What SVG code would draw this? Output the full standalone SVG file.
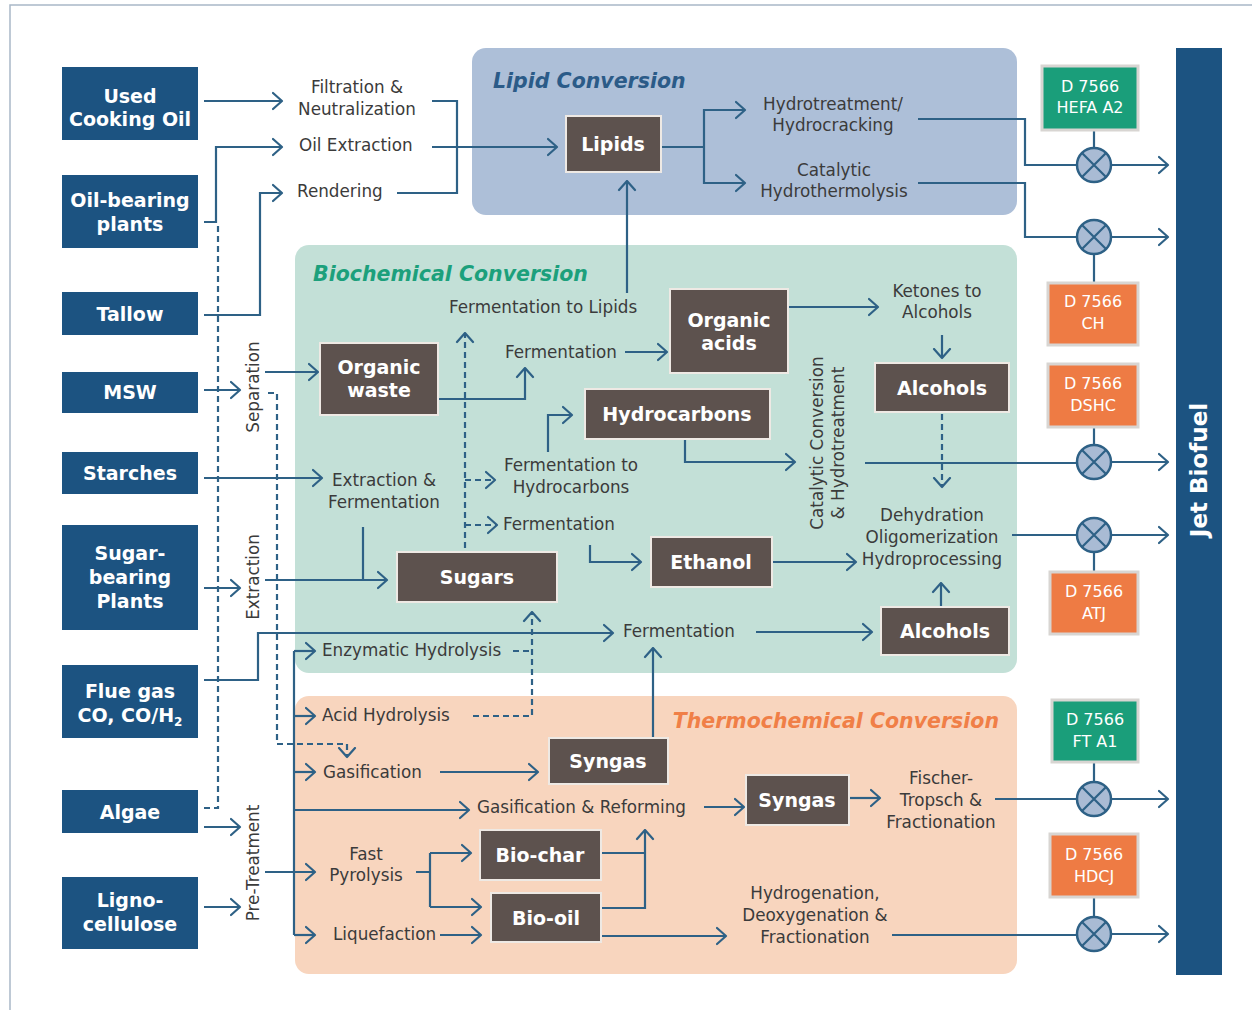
<svg xmlns="http://www.w3.org/2000/svg" width="1252" height="1013" viewBox="0 0 1252 1013">
<style>
text{font-family:"DejaVu Sans","Liberation Sans",sans-serif}
.src rect{fill:#1c5381}
.src text,.mid text{fill:#fff;font-weight:bold;font-size:19px;text-anchor:middle}
.mid rect{fill:#5d524e;stroke:#eee9e4;stroke-width:2}
.std text{fill:#fff;font-size:16px;text-anchor:middle}
.std rect{stroke:#d8d5d2;stroke-width:3}
.g rect{fill:#1a9e7a}
.o rect{fill:#ee7b44}
.lbl{fill:#3b3b3b;font-size:16.8px}
.m{text-anchor:middle}
.ttl{font-size:20.5px;font-weight:bold;font-style:italic}
.cn path,.cn line{fill:none;stroke:#2e6186;stroke-width:2.2}
.cn .d{stroke-dasharray:6 4}
.cn .a{marker-end:url(#ah)}
.x circle{fill:#a9bbd4;stroke:#2e6186;stroke-width:2.5}
.x path{fill:none;stroke:#2e6186;stroke-width:2.2}
</style>
<defs>
<marker id="ah" viewBox="0 0 12 20" refX="10.5" refY="10" markerWidth="12" markerHeight="20" markerUnits="userSpaceOnUse" orient="auto">
<path d="M1.5,2 L10.5,10 L1.5,18" fill="none" stroke="#2e6186" stroke-width="2.2" stroke-linecap="round" stroke-linejoin="round"/>
</marker>
</defs>
<rect width="1252" height="1013" fill="#fff"/>
<path d="M10,1010 V5 H1252" fill="none" stroke="#a9b8c7" stroke-width="1.5"/>

<!-- panels -->
<g id="panel-lipid"><rect x="472" y="48" width="545" height="167" rx="14" fill="#adbfd8"/>
<text x="493" y="88" class="ttl" fill="#2b5b88">Lipid Conversion</text></g>
<g id="panel-bio"><rect x="295" y="245" width="722" height="428" rx="14" fill="#c3e0d7"/>
<text x="313" y="281" class="ttl" fill="#1ca07c">Biochemical Conversion</text></g>
<g id="panel-thermo"><rect x="295" y="696" width="722" height="278" rx="14" fill="#f8d5be"/>
<text x="999" y="728" class="ttl" fill="#f07f47" text-anchor="end">Thermochemical Conversion</text></g>

<!-- Jet Biofuel bar -->
<g id="jet"><rect x="1176" y="48" width="46" height="927" fill="#1c5381"/>
<text transform="translate(1207,470) rotate(-90)" fill="#fff" font-weight="bold" font-size="23" text-anchor="middle">Jet Biofuel</text></g>

<!-- connectors -->
<g id="connectors" class="cn">
<path class="a" d="M204,101 H282"/>
<path class="a" d="M204,222 H216 V147 H282"/>
<path class="a" d="M204,315 H260 V193 H282"/>
<path d="M432,101 H457 V193 H397"/>
<path class="a" d="M432,147 H557"/>
<path d="M661,147 H704"/>
<path class="a" d="M704,147 V110 H745"/>
<path class="a" d="M704,147 V183 H745"/>
<path d="M918,119 H1025 V165 H1077"/>
<path d="M918,183 H1025 V237 H1077"/>
<path class="a" d="M1111,165 H1168"/>
<path class="a" d="M1111,237 H1168"/>
<path class="a" d="M1111,462 H1168"/>
<path class="a" d="M1111,535 H1168"/>
<path class="a" d="M1111,799 H1168"/>
<path class="a" d="M1111,934 H1168"/>
<path d="M1094,130 V148 M1094,254 V283 M1094,427 V445 M1094,552 V572 M1094,762 V782 M1094,897 V917"/>
<path class="a" d="M627,293 V181"/>
<path class="a" d="M204,390 H240"/>
<path class="a" d="M265,372 H318"/>
<path class="a" d="M438,399 H525 V368"/>
<path class="a" d="M625,352 H667"/>
<path class="a" d="M788,307 H878"/>
<path class="a" d="M942,335 V358"/>
<path class="a" d="M204,478 H322"/>
<path d="M363,527 V580"/>
<path class="a" d="M265,580 H387"/>
<path class="a" d="M204,588 H240"/>
<path class="a" d="M548,452 V415 H572"/>
<path class="a" d="M685,439 V462 H795"/>
<path d="M865,463 H1077"/>
<path class="a" d="M590,545 V562 H641"/>
<path class="a" d="M772,562 H856"/>
<path class="a" d="M941,607 V583"/>
<path d="M1012,535 H1077"/>
<path class="a" d="M204,680 H258 V633 H613"/>
<path class="a" d="M756,632 H872"/>
<path class="a" d="M653,738 V648"/>
<path d="M294,651 V935"/>
<path class="a" d="M294,651 H315"/>
<path class="a" d="M294,716 H315"/>
<path class="a" d="M294,772 H315"/>
<path class="a" d="M294,935 H315"/>
<path class="a" d="M294,810 H469"/>
<path class="a" d="M265,872 H315"/>
<path class="a" d="M204,827 H240"/>
<path class="a" d="M204,907 H240"/>
<path class="a" d="M440,772 H538"/>
<path class="a" d="M704,807 H744"/>
<path class="a" d="M849,798 H880"/>
<path d="M995,799 H1077"/>
<path d="M416,872 H430 M430,853 V907"/>
<path class="a" d="M430,853 H471"/>
<path class="a" d="M430,907 H481"/>
<path d="M601,853 H645"/>
<path class="a" d="M601,908 H645 V830"/>
<path class="a" d="M440,935 H481"/>
<path class="a" d="M601,936 H726"/>
<path d="M892,935 H1077"/>
<!-- dashed -->
<path class="d" d="M218,226 V808 H204"/>
<path class="d a" d="M268,393 H277 V744 H347 V757"/>
<path class="d a" d="M465,548 V333"/>
<path class="d a" d="M465,480 H495"/>
<path class="d a" d="M465,525 H497"/>
<path class="d" d="M513,651 H532"/>
<path class="d a" d="M473,716 H532 V612"/>
<path class="d a" d="M942,414 V487"/>
</g>

<!-- source nodes -->
<g id="used-cooking-oil" class="src"><rect x="62" y="67" width="136" height="73"/><text x="130" y="103">Used</text><text x="130" y="126">Cooking Oil</text></g>
<g id="oil-bearing-plants" class="src"><rect x="62" y="175" width="136" height="73"/><text x="130" y="207">Oil-bearing</text><text x="130" y="231">plants</text></g>
<g id="tallow" class="src"><rect x="62" y="292" width="136" height="43"/><text x="130" y="321">Tallow</text></g>
<g id="msw" class="src"><rect x="62" y="372" width="136" height="41"/><text x="130" y="399">MSW</text></g>
<g id="starches" class="src"><rect x="62" y="452" width="136" height="42"/><text x="130" y="480">Starches</text></g>
<g id="sugar-bearing-plants" class="src"><rect x="62" y="525" width="136" height="105"/><text x="130" y="560">Sugar-</text><text x="130" y="584">bearing</text><text x="130" y="608">Plants</text></g>
<g id="flue-gas" class="src"><rect x="62" y="665" width="136" height="73"/><text x="130" y="698">Flue gas</text><text x="130" y="722">CO, CO/H<tspan font-size="12" dy="4">2</tspan></text></g>
<g id="algae" class="src"><rect x="62" y="790" width="136" height="43"/><text x="130" y="819">Algae</text></g>
<g id="ligno-cellulose" class="src"><rect x="62" y="877" width="136" height="72"/><text x="130" y="907">Ligno-</text><text x="130" y="931">cellulose</text></g>

<!-- process labels -->
<g id="filtration"><text class="lbl m" x="357" y="93">Filtration &amp;</text><text class="lbl m" x="357" y="115">Neutralization</text></g>
<g id="oil-extraction"><text class="lbl" x="299" y="151">Oil Extraction</text></g>
<g id="rendering"><text class="lbl" x="297" y="197">Rendering</text></g>
<g id="hydrotreatment"><text class="lbl m" x="833" y="110">Hydrotreatment/</text><text class="lbl m" x="833" y="131">Hydrocracking</text></g>
<g id="cat-hydrothermolysis"><text class="lbl m" x="834" y="176">Catalytic</text><text class="lbl m" x="834" y="197">Hydrothermolysis</text></g>
<g id="separation"><text class="lbl m" transform="translate(259,387) rotate(-90)">Separation</text></g>
<g id="extraction"><text class="lbl m" transform="translate(259,577) rotate(-90)">Extraction</text></g>
<g id="pre-treatment"><text class="lbl m" transform="translate(259,863) rotate(-90)">Pre-Treatment</text></g>
<g id="ferm-lipids"><text class="lbl" x="449" y="313">Fermentation to Lipids</text></g>
<g id="fermentation-1"><text class="lbl" x="505" y="358">Fermentation</text></g>
<g id="ketones"><text class="lbl m" x="937" y="297">Ketones to</text><text class="lbl m" x="937" y="318">Alcohols</text></g>
<g id="extraction-fermentation"><text class="lbl m" x="384" y="486">Extraction &amp;</text><text class="lbl m" x="384" y="508">Fermentation</text></g>
<g id="ferm-hydrocarbons"><text class="lbl m" x="571" y="471">Fermentation to</text><text class="lbl m" x="571" y="493">Hydrocarbons</text></g>
<g id="fermentation-2"><text class="lbl" x="503" y="530">Fermentation</text></g>
<g id="catalytic-conversion"><text class="lbl m" transform="translate(823,443) rotate(-90)">Catalytic Conversion</text><text class="lbl m" transform="translate(844,443) rotate(-90)">&amp; Hydrotreatment</text></g>
<g id="dehydration"><text class="lbl m" x="932" y="521">Dehydration</text><text class="lbl m" x="932" y="543">Oligomerization</text><text class="lbl m" x="932" y="565">Hydroprocessing</text></g>
<g id="fermentation-3"><text class="lbl" x="623" y="637">Fermentation</text></g>
<g id="enzymatic"><text class="lbl" x="322" y="656">Enzymatic Hydrolysis</text></g>
<g id="acid"><text class="lbl" x="322" y="721">Acid Hydrolysis</text></g>
<g id="gasification"><text class="lbl" x="323" y="778">Gasification</text></g>
<g id="gas-reforming"><text class="lbl" x="477" y="813">Gasification &amp; Reforming</text></g>
<g id="fast-pyrolysis"><text class="lbl m" x="366" y="860">Fast</text><text class="lbl m" x="366" y="881">Pyrolysis</text></g>
<g id="liquefaction"><text class="lbl" x="333" y="940">Liquefaction</text></g>
<g id="fischer"><text class="lbl m" x="941" y="784">Fischer-</text><text class="lbl m" x="941" y="806">Tropsch &amp;</text><text class="lbl m" x="941" y="828">Fractionation</text></g>
<g id="hydrogenation"><text class="lbl m" x="815" y="899">Hydrogenation,</text><text class="lbl m" x="815" y="921">Deoxygenation &amp;</text><text class="lbl m" x="815" y="943">Fractionation</text></g>

<!-- intermediate nodes -->
<g id="lipids" class="mid"><rect x="566" y="116" width="95" height="56"/><text x="613" y="151">Lipids</text></g>
<g id="organic-waste" class="mid"><rect x="320" y="343" width="118" height="72"/><text x="379" y="374">Organic</text><text x="379" y="397">waste</text></g>
<g id="organic-acids" class="mid"><rect x="670" y="289" width="118" height="84"/><text x="729" y="327">Organic</text><text x="729" y="350">acids</text></g>
<g id="alcohols-1" class="mid"><rect x="875" y="363" width="134" height="49"/><text x="942" y="395">Alcohols</text></g>
<g id="hydrocarbons" class="mid"><rect x="585" y="389" width="185" height="50"/><text x="677" y="421">Hydrocarbons</text></g>
<g id="sugars" class="mid"><rect x="397" y="552" width="160" height="50"/><text x="477" y="584">Sugars</text></g>
<g id="ethanol" class="mid"><rect x="651" y="537" width="121" height="50"/><text x="711" y="569">Ethanol</text></g>
<g id="alcohols-2" class="mid"><rect x="881" y="607" width="128" height="48"/><text x="945" y="638">Alcohols</text></g>
<g id="syngas-1" class="mid"><rect x="549" y="738" width="119" height="46"/><text x="608" y="768">Syngas</text></g>
<g id="syngas-2" class="mid"><rect x="746" y="775" width="103" height="50"/><text x="797" y="807">Syngas</text></g>
<g id="bio-char" class="mid"><rect x="480" y="830" width="121" height="50"/><text x="540" y="862">Bio-char</text></g>
<g id="bio-oil" class="mid"><rect x="491" y="893" width="110" height="49"/><text x="546" y="925">Bio-oil</text></g>

<!-- standards -->
<g id="std-hefa" class="std g"><rect x="1042" y="66" width="96" height="64"/><text x="1090" y="92">D 7566</text><text x="1090" y="113">HEFA A2</text></g>
<g id="std-ch" class="std o"><rect x="1048" y="283" width="90" height="62"/><text x="1093" y="307">D 7566</text><text x="1093" y="329">CH</text></g>
<g id="std-dshc" class="std o"><rect x="1048" y="364" width="90" height="63"/><text x="1093" y="389">D 7566</text><text x="1093" y="411">DSHC</text></g>
<g id="std-atj" class="std o"><rect x="1050" y="572" width="88" height="62"/><text x="1094" y="597">D 7566</text><text x="1094" y="619">ATJ</text></g>
<g id="std-ft" class="std g"><rect x="1052" y="700" width="86" height="62"/><text x="1095" y="725">D 7566</text><text x="1095" y="747">FT A1</text></g>
<g id="std-hdcj" class="std o"><rect x="1050" y="834" width="88" height="63"/><text x="1094" y="860">D 7566</text><text x="1094" y="882">HDCJ</text></g>

<!-- blend points -->
<g id="blend-1" class="x"><circle cx="1094" cy="165" r="17"/><path d="M1082,153 L1106,177 M1106,153 L1082,177"/></g>
<g id="blend-2" class="x"><circle cx="1094" cy="237" r="17"/><path d="M1082,225 L1106,249 M1106,225 L1082,249"/></g>
<g id="blend-3" class="x"><circle cx="1094" cy="462" r="17"/><path d="M1082,450 L1106,474 M1106,450 L1082,474"/></g>
<g id="blend-4" class="x"><circle cx="1094" cy="535" r="17"/><path d="M1082,523 L1106,547 M1106,523 L1082,547"/></g>
<g id="blend-5" class="x"><circle cx="1094" cy="799" r="17"/><path d="M1082,787 L1106,811 M1106,787 L1082,811"/></g>
<g id="blend-6" class="x"><circle cx="1094" cy="934" r="17"/><path d="M1082,922 L1106,946 M1106,922 L1082,946"/></g>
</svg>
